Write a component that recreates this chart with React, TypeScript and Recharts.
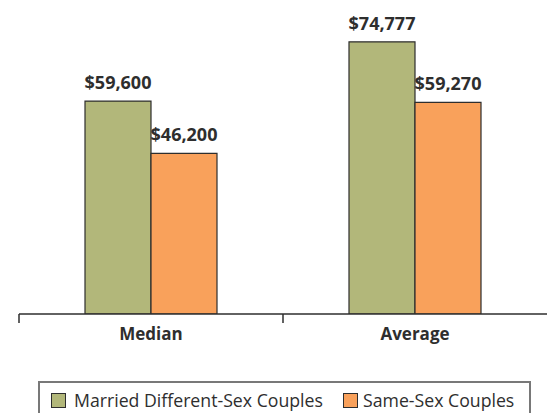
import React from "react";
import { BarChart, Bar, XAxis, YAxis, LabelList } from "recharts";

const categories = ["Median", "Average"];
const marriedValues = [59600, 74777];
const sameSexValues = [46200, 59270];
const seriesNames = ["Married Different-Sex Couples", "Same-Sex Couples"];

const data = categories.map((name, i) => ({
  name,
  married: marriedValues[i],
  sameSex: sameSexValues[i],
}));

const WIDTH = 547;
const HEIGHT = 413;
const MARGIN = { top: 0, right: 0, bottom: 0, left: 19 };
const BAND = (WIDTH - MARGIN.left - MARGIN.right) / categories.length;

const GREEN = "#b2b77a";
const ORANGE = "#f9a15b";
const INK = "#2e2e2e";
const FONT = "'Open Sans', sans-serif";

const fmt = (v: number) => "$" + v.toLocaleString("en-US");

function CategoryTick(props: any) {
  const { x, y, payload } = props;
  return (
    <g>
      <line x1={x - BAND / 2} y1={y} x2={x - BAND / 2} y2={y + 9} stroke={INK} strokeWidth={1.5} />
      <text
        x={x}
        y={y + 26}
        textAnchor="middle"
        fill={INK}
        fontFamily={FONT}
        fontWeight={700}
        fontSize={17}
      >
        {payload.value}
      </text>
    </g>
  );
}

const labelStyle = {
  fill: INK,
  fontFamily: FONT,
  fontWeight: 700,
  fontSize: 18,
};

export default function App() {
  return (
    <div style={{ position: "absolute", left: 0, top: 0, width: WIDTH, height: HEIGHT, background: "#fff" }}>
      <BarChart
        width={WIDTH}
        height={HEIGHT}
        data={data}
        margin={MARGIN}
        barCategoryGap="25%"
        barGap={0}
      >
        <XAxis
          dataKey="name"
          height={99}
          tickLine={false}
          tickSize={0}
          tickMargin={0}
          axisLine={{ stroke: INK, strokeWidth: 1.5 }}
          tick={<CategoryTick />}
          interval={0}
        />
        <YAxis hide domain={[5000, 85500]} allowDataOverflow />
        <Bar dataKey="married" fill={GREEN} stroke={INK} strokeWidth={1.2} isAnimationActive={false}>
          <LabelList dataKey="married" position="top" offset={12} formatter={fmt} style={labelStyle} />
        </Bar>
        <Bar dataKey="sameSex" fill={ORANGE} stroke={INK} strokeWidth={1.2} isAnimationActive={false}>
          <LabelList dataKey="sameSex" position="top" offset={12} formatter={fmt} style={labelStyle} />
        </Bar>
      </BarChart>
      <div
        style={{
          position: "absolute",
          left: 38,
          top: 381,
          width: 493,
          height: 45,
          border: "2px solid #787878",
          boxSizing: "border-box",
          fontFamily: FONT,
          fontSize: 17.7,
          color: INK,
        }}
      >
        {[GREEN, ORANGE].map((c, i) => (
          <div key={i} style={{ position: "absolute", left: i === 0 ? 11 : 303, top: 8, display: "flex", alignItems: "center", whiteSpace: "nowrap" }}>
            <span style={{ width: 15, height: 15, background: c, border: `1.5px solid ${INK}`, boxSizing: "border-box", display: "inline-block" }} />
            <span style={{ marginLeft: i === 0 ? 8 : 5, lineHeight: "18px" }}>{seriesNames[i]}</span>
          </div>
        ))}
      </div>
    </div>
  );
}
